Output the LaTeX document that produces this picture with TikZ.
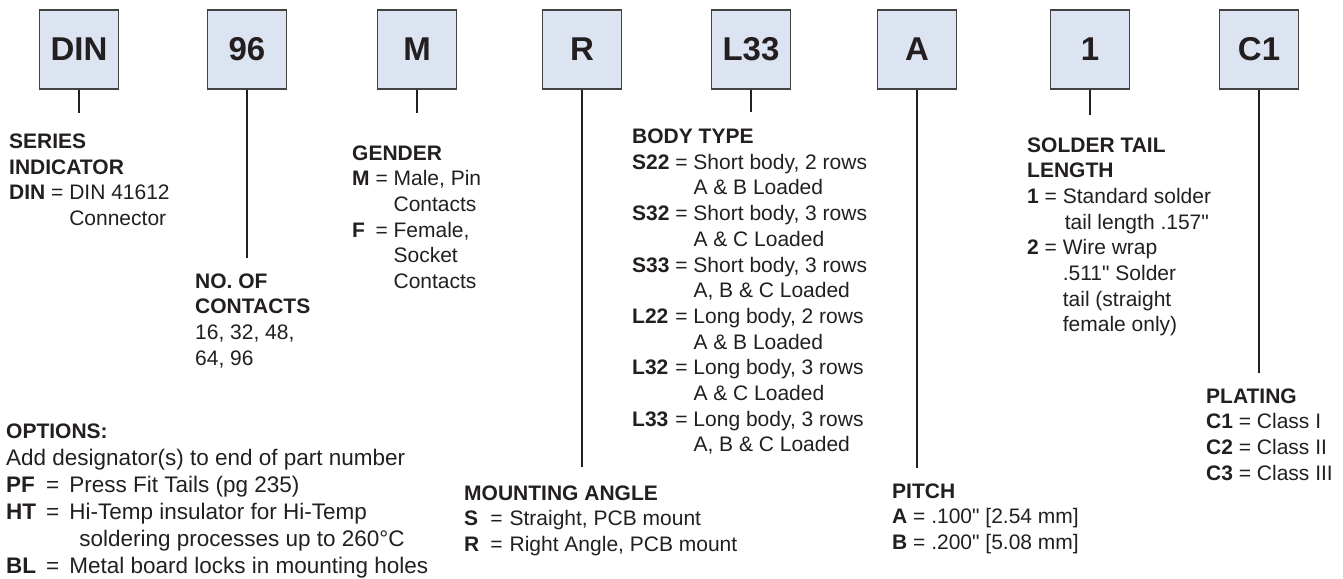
\documentclass[tikz,border=0pt]{standalone}
\usepackage{fontspec}
\setmainfont{Liberation Sans}[Ligatures=TeXOff]
\usepackage{array}
\definecolor{boxfill}{HTML}{DDE4F1}
\definecolor{ink}{HTML}{231F20}
\newcommand{\hdr}[1]{\multicolumn{3}{@{}l@{}}{\bfseries #1}}
\newcommand{\legendsize}{\fontsize{21}{25.7}\selectfont}
\newcommand{\optsize}{\fontsize{22.5}{27}\selectfont}
\begin{document}
\begin{tikzpicture}[x=1pt,y=-1pt,
  code/.style={draw=ink!85,line width=1.2pt,fill=boxfill,minimum width=79pt,
    minimum height=79pt,inner sep=0pt,text=ink,
    font=\fontsize{33}{33}\selectfont\bfseries},
  legend/.style={anchor=base west,inner sep=0pt,text=ink,font=\legendsize},
  stem/.style={draw=ink,line width=2pt}]
\useasboundingbox (0,0) rectangle (1343,578);
% code boxes
\foreach \x/\t/\n in {79/DIN/din,247/96/cnt,417/M/gen,582/R/mnt,
  751/L33/body,917/A/pitch,1090/1/tail,1259/C1/plat}
  \node[code] (\n) at (\x,49.5) {\t};
% stems
\foreach \n/\x/\y in {din/79/113,cnt/247/258,gen/417/113,mnt/582/467,
  body/751/112,pitch/917/468,tail/1090/115,plat/1259/373}
  {\coordinate (\n-end) at (\x,\y);
   \draw[stem] (\n.south) -- (\n-end);}
% legends
\node[legend] (serieslbl) at (9,148.3) {\begin{tabular}[t]{@{}l@{\ }c@{\ }l@{}}
  \hdr{SERIES}\\ \hdr{INDICATOR}\\
  \textbf{DIN} & = & DIN 41612\\ & & Connector
\end{tabular}};
\node[legend] (cntlbl) at (195,288) {\begin{tabular}[t]{@{}l@{}}
  \bfseries NO.\ OF\\ \bfseries CONTACTS\\ 16, 32, 48,\\ 64, 96
\end{tabular}};
\node[legend] (genlbl) at (352,160) {\begin{tabular}[t]{@{}l@{\ }c@{\ }l@{}}
  \hdr{GENDER}\\
  \textbf{M} & = & Male, Pin\\ & & Contacts\\
  \textbf{F} & = & Female,\\ & & Socket\\ & & Contacts
\end{tabular}};
\node[legend] (mntlbl) at (464,500) {\begin{tabular}[t]{@{}l@{\hspace{11pt}}c@{\hspace{7pt}}l@{}}
  \hdr{MOUNTING ANGLE}\\
  \textbf{S} & = & Straight, PCB mount\\
  \textbf{R} & = & Right Angle, PCB mount
\end{tabular}};
\node[legend] (bodylbl) at (632,143.5) {\begin{tabular}[t]{@{}l@{\ }c@{\ }l@{}}
  \hdr{BODY TYPE}\\
  \textbf{S22} & = & Short body, 2 rows\\ & & A \& B Loaded\\
  \textbf{S32} & = & Short body, 3 rows\\ & & A \& C Loaded\\
  \textbf{S33} & = & Short body, 3 rows\\ & & A, B \& C Loaded\\
  \textbf{L22} & = & Long body, 2 rows\\ & & A \& B Loaded\\
  \textbf{L32} & = & Long body, 3 rows\\ & & A \& C Loaded\\
  \textbf{L33} & = & Long body, 3 rows\\ & & A, B \& C Loaded
\end{tabular}};
\node[legend] (pitchlbl) at (892,498) {\begin{tabular}[t]{@{}l@{\ }c@{\ }l@{}}
  \hdr{PITCH}\\
  \textbf{A} & = & .100" [2.54 mm]\\
  \textbf{B} & = & .200" [5.08 mm]
\end{tabular}};
\node[legend] (taillbl) at (1027,152) {\begin{tabular}[t]{@{}l@{\ }c@{\ }l@{}}
  \hdr{SOLDER TAIL}\\ \hdr{LENGTH}\\
  \textbf{1} & = & Standard solder\\ & & \hspace{2pt}tail length .157"\\
  \textbf{2} & = & Wire wrap\\ & & .511" Solder\\ & & tail (straight\\ & & female only)
\end{tabular}};
\node[legend] (platlbl) at (1206,403) {\begin{tabular}[t]{@{}l@{\ }c@{\ }l@{}}
  \hdr{PLATING}\\
  \textbf{C1} & = & Class I\\
  \textbf{C2} & = & Class II\\
  \textbf{C3} & = & Class III
\end{tabular}};
\node[legend,font=\optsize] (optlbl) at (6,438) {\begin{tabular}[t]{@{}l@{\hspace{10pt}}c@{\hspace{10pt}}l@{}}
  \multicolumn{3}{@{}l@{}}{\fontsize{21}{27}\selectfont\bfseries OPTIONS:}\\
  \multicolumn{3}{@{}l@{}}{Add designator(s) to end of part number}\\
  \textbf{PF} & = & Press Fit Tails (pg 235)\\
  \textbf{HT} & = & Hi-Temp insulator for Hi-Temp\\
  & & \hspace{10pt}soldering processes up to 260°C\\
  \textbf{BL} & = & Metal board locks in mounting holes
\end{tabular}};
\end{tikzpicture}
\end{document}
